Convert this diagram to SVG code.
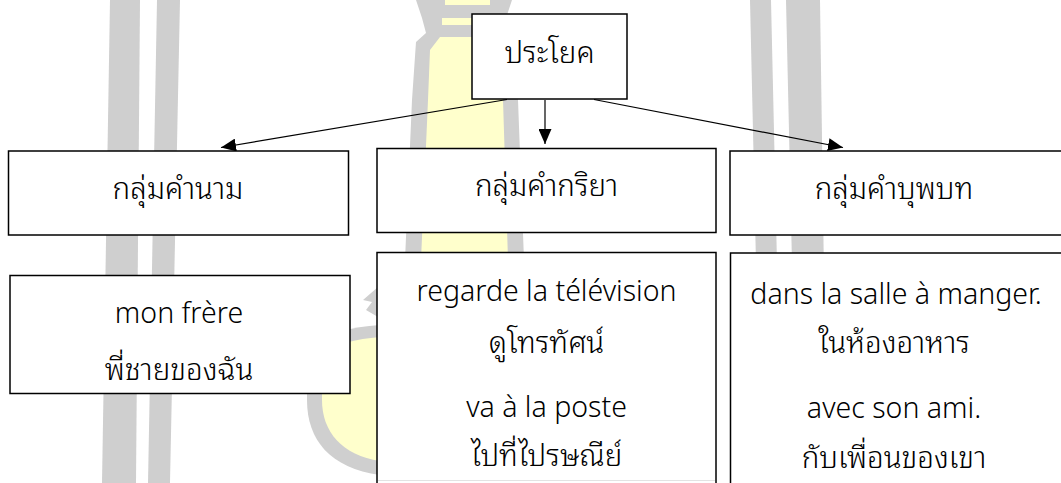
<svg xmlns="http://www.w3.org/2000/svg" width="1061" height="483" viewBox="0 0 1061 483">
<defs>
<style>
.wg{fill:#cfcfcf;}
.wy{fill:#ffffcc;}
.box{fill:#ffffff;stroke:#000000;stroke-width:1.5;}
.edge{stroke:#000000;stroke-width:1.2;fill:none;}
.th{font-family:"Noto Sans Thai Looped","Noto Sans Thai","Noto Sans",sans-serif;font-size:29.5px;font-weight:300;fill:#000000;text-anchor:middle;}
.la{font-family:"Noto Sans","Open Sans",sans-serif;font-size:28.5px;font-weight:300;fill:#000000;text-anchor:middle;}
</style>
<marker id="ah" viewBox="0 0 15 13" refX="15" refY="6.5" markerWidth="15" markerHeight="13" orient="auto" markerUnits="userSpaceOnUse">
<path d="M0,0 L15,6.5 L0,13 Z" fill="#000000"/>
</marker>
</defs>
<rect x="0" y="0" width="1061" height="483" fill="#ffffff"/>
<g id="watermark">
<polygon class="wg" points="110,0 140,0 136,483 102,483"/>
<polygon class="wg" points="157,0 180,0 170,483 148,483"/>
<polygon class="wg" points="750,0 771,0 782,483 761,483"/>
<polygon class="wg" points="786,0 820,0 827,483 797,483"/>
<path class="wg" d="M416,0 L512,0 L506,18 L500,33 L512,40 L518,100 L524,260 L405,260 L412,100 L416,42 L426,33 L422,18 Z"/>
<rect class="wy" x="445" y="0" width="45" height="5"/>
<rect class="wy" x="442" y="18" width="55" height="7"/>
<path class="wy" d="M440,37 L498,37 L503,100 L508,260 L421,260 L428,100 L430,50 Z"/>
<path class="wg" d="M380,325 C350,327 330,333 318,342 C309,350 307,360 307,375 L307,400 C307,440 330,468 380,475 Z"/>
<path class="wy" d="M380,337 C355,339 338,344 330,350 C323,357 322,365 322,375 L322,400 C322,432 342,455 380,461 Z"/>
<polygon class="wg" points="378,287 363,300 372,302 366,310 378,317"/>
</g>
<g id="connectors">
<line class="edge" x1="507" y1="99.5" x2="221" y2="147.5" marker-end="url(#ah)"/>
<line class="edge" x1="545" y1="100" x2="545" y2="144" marker-end="url(#ah)"/>
<line class="edge" x1="594" y1="99.5" x2="843" y2="147.5" marker-end="url(#ah)"/>
</g>
<g id="n-sentence">
<rect class="box" x="472" y="14" width="155" height="85"/>
<text class="th" x="549.5" y="63">ประโยค</text>
</g>
<g id="n-noun">
<rect class="box" x="8.5" y="151" width="340" height="84"/>
<text class="th" x="178" y="199">กลุ่มคำนาม</text>
</g>
<g id="n-verb">
<rect class="box" x="377" y="148.5" width="339" height="84"/>
<text class="th" x="546.5" y="196">กลุ่มคำกริยา</text>
</g>
<g id="n-prep">
<rect class="box" x="730" y="151" width="340" height="84"/>
<text class="th" x="894" y="199">กลุ่มคำบุพบท</text>
</g>
<g id="n-noun-ex">
<rect class="box" x="10" y="275.5" width="340" height="118"/>
<text class="la" x="179" y="323">mon frère</text>
<text class="th" x="179" y="380">พี่ชายของฉัน</text>
</g>
<g id="n-verb-ex">
<rect class="box" x="377" y="252.5" width="339" height="250"/>
<line x1="378" y1="480.5" x2="715" y2="480.5" stroke="#e3e3e3" stroke-width="1"/>
<text class="la" x="546.5" y="301">regarde la télévision</text>
<text class="th" x="546.5" y="353">ดูโทรทัศน์</text>
<text class="la" x="546.5" y="417">va à la poste</text>
<text class="th" x="546.5" y="466">ไปที่ไปรษณีย์</text>
</g>
<g id="n-prep-ex">
<rect class="box" x="730.5" y="253" width="340" height="250"/>
<text class="la" x="896" y="304">dans la salle à manger.</text>
<text class="th" x="894" y="353">ในห้องอาหาร</text>
<text class="la" x="894" y="418">avec son ami.</text>
<text class="th" x="894" y="468">กับเพื่อนของเขา</text>
</g>
</svg>
